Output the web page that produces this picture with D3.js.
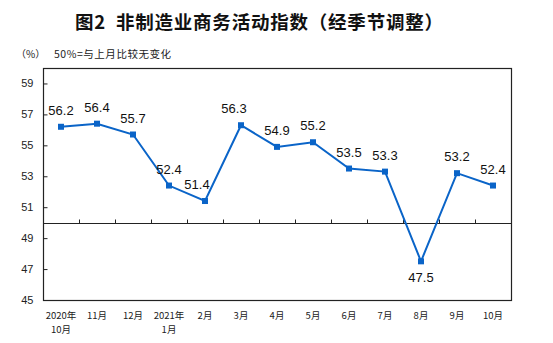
<!DOCTYPE html>
<html>
<head>
<meta charset="utf-8">
<script src="https://cdn.jsdelivr.net/npm/d3@7"></script>
<style>
  html, body { margin: 0; padding: 0; background: #fff; }
  svg { display: block; }
</style>
</head>
<body>
<svg id="chart" width="553" height="343"></svg>
<script>
// Month categories (first line / second line of each axis label)
const monthLine1 = ["2020年", "11月", "12月", "2021年", "2月", "3月", "4月", "5月", "6月", "7月", "8月", "9月", "10月"];
const monthLine2 = ["10月", "", "", "1月", "", "", "", "", "", "", "", "", ""];
// Non-manufacturing business activity index, seasonally adjusted (%)
const indexValues = [56.2, 56.4, 55.7, 52.4, 51.4, 56.3, 54.9, 55.2, 53.5, 53.3, 47.5, 53.2, 52.4];
// Y axis tick values
const yTicks = [45, 47, 49, 51, 53, 55, 57, 59];

const svg = d3.select("#chart");
const margin = { left: 43, top: 68, right: 42, bottom: 43 };
const W = 553, H = 343;
const plotW = W - margin.left - margin.right;
const plotH = H - margin.top - margin.bottom;

const cats = d3.range(indexValues.length);
const x = d3.scaleBand().domain(cats).range([margin.left, margin.left + plotW]).paddingInner(0).paddingOuter(0);
const y = d3.scaleLinear().domain([45, 60]).range([margin.top + plotH, margin.top]);
const cx = i => x(i) + x.bandwidth() / 2;

const cnFont = "'Noto Sans CJK SC', 'Noto Sans', sans-serif";
const numFont = "'Liberation Sans', Arial, sans-serif";
const blue = "#0a64c8";
const ink = "#222";

// Title
svg.append("text")
  .attr("x", 75).attr("y", 29)
  .attr("font-family", cnFont)
  .attr("font-weight", "bold")
  .attr("font-size", 18.5)
  .attr("fill", "#111")
  .attr("textLength", 368)
  .attr("lengthAdjust", "spacing")
  .text("图2\u00a0\u00a0非制造业商务活动指数（经季节调整）");

// Unit and note
svg.append("text")
  .attr("x", 16).attr("y", 58)
  .attr("font-family", cnFont).attr("font-size", 10).attr("fill", ink)
  .text("（%）");
svg.append("text")
  .attr("x", 54).attr("y", 58)
  .attr("font-family", cnFont).attr("font-size", 10.5).attr("fill", ink)
  .attr("textLength", 117).attr("lengthAdjust", "spacing")
  .text("50%=与上月比较无变化");

// Frame
svg.append("rect")
  .attr("x", margin.left + 0.5).attr("y", margin.top + 0.5)
  .attr("width", plotW).attr("height", plotH)
  .attr("fill", "none").attr("stroke", ink).attr("stroke-width", 1.2);

// Y axis with inward ticks
const yAxis = d3.axisRight(y).tickValues(yTicks).tickSize(4).tickFormat(d3.format("d"));
const gy = svg.append("g").attr("transform", `translate(${margin.left + 0.5},0)`).call(yAxis);
gy.select(".domain").remove();
gy.selectAll(".tick line").attr("stroke", ink);
gy.selectAll(".tick text")
  .attr("x", -10).attr("text-anchor", "end")
  .attr("font-family", numFont).attr("font-size", 11).attr("fill", ink);

// 50% baseline with upward ticks at category boundaries
const y50 = Math.round(y(50)) + 0.5;
svg.append("line")
  .attr("x1", margin.left).attr("x2", margin.left + plotW)
  .attr("y1", y50).attr("y2", y50)
  .attr("stroke", ink).attr("stroke-width", 1.2);
svg.append("g").attr("transform", `translate(0,${y50})`)
  .selectAll("line")
  .data(cats.slice(1))
  .join("line")
  .attr("x1", d => Math.round(x(d)) + 0.5).attr("x2", d => Math.round(x(d)) + 0.5)
  .attr("y1", 0).attr("y2", -4)
  .attr("stroke", ink);

// Category labels below the frame
const gx = svg.append("g").attr("font-family", cnFont).attr("font-size", 9.5).attr("fill", ink);
gx.selectAll("text.l1").data(cats).join("text")
  .attr("class", "l1")
  .attr("x", cx).attr("y", 319)
  .attr("text-anchor", "middle")
  .text(i => monthLine1[i]);
gx.selectAll("text.l2").data(cats.filter(i => monthLine2[i])).join("text")
  .attr("class", "l2")
  .attr("x", cx).attr("y", 333)
  .attr("text-anchor", "middle")
  .text(i => monthLine2[i]);

// Index line
const line = d3.line().x((d, i) => cx(i)).y(d => y(d));
svg.append("path")
  .datum(indexValues)
  .attr("d", line)
  .attr("fill", "none")
  .attr("stroke", blue)
  .attr("stroke-width", 2)
  .attr("stroke-linejoin", "miter");

// Square markers
const m = 6;
svg.selectAll("rect.pt").data(indexValues).join("rect")
  .attr("class", "pt")
  .attr("x", (d, i) => cx(i) - m / 2)
  .attr("y", d => y(d) - m / 2)
  .attr("width", m).attr("height", m)
  .attr("fill", blue);

// Value labels; a few are nudged sideways to clear the line
const nudgeX = { 4: -8, 5: -7 };
svg.selectAll("text.val").data(indexValues).join("text")
  .attr("class", "val")
  .attr("x", (d, i) => cx(i) + (nudgeX[i] || 0))
  .attr("y", (d, i) => d < 50 ? y(d) + 21 : y(d) - 12)
  .attr("text-anchor", "middle")
  .attr("font-family", numFont)
  .attr("font-size", 13)
  .attr("fill", "#111")
  .text(d => d.toFixed(1));
</script>
</body>
</html>
